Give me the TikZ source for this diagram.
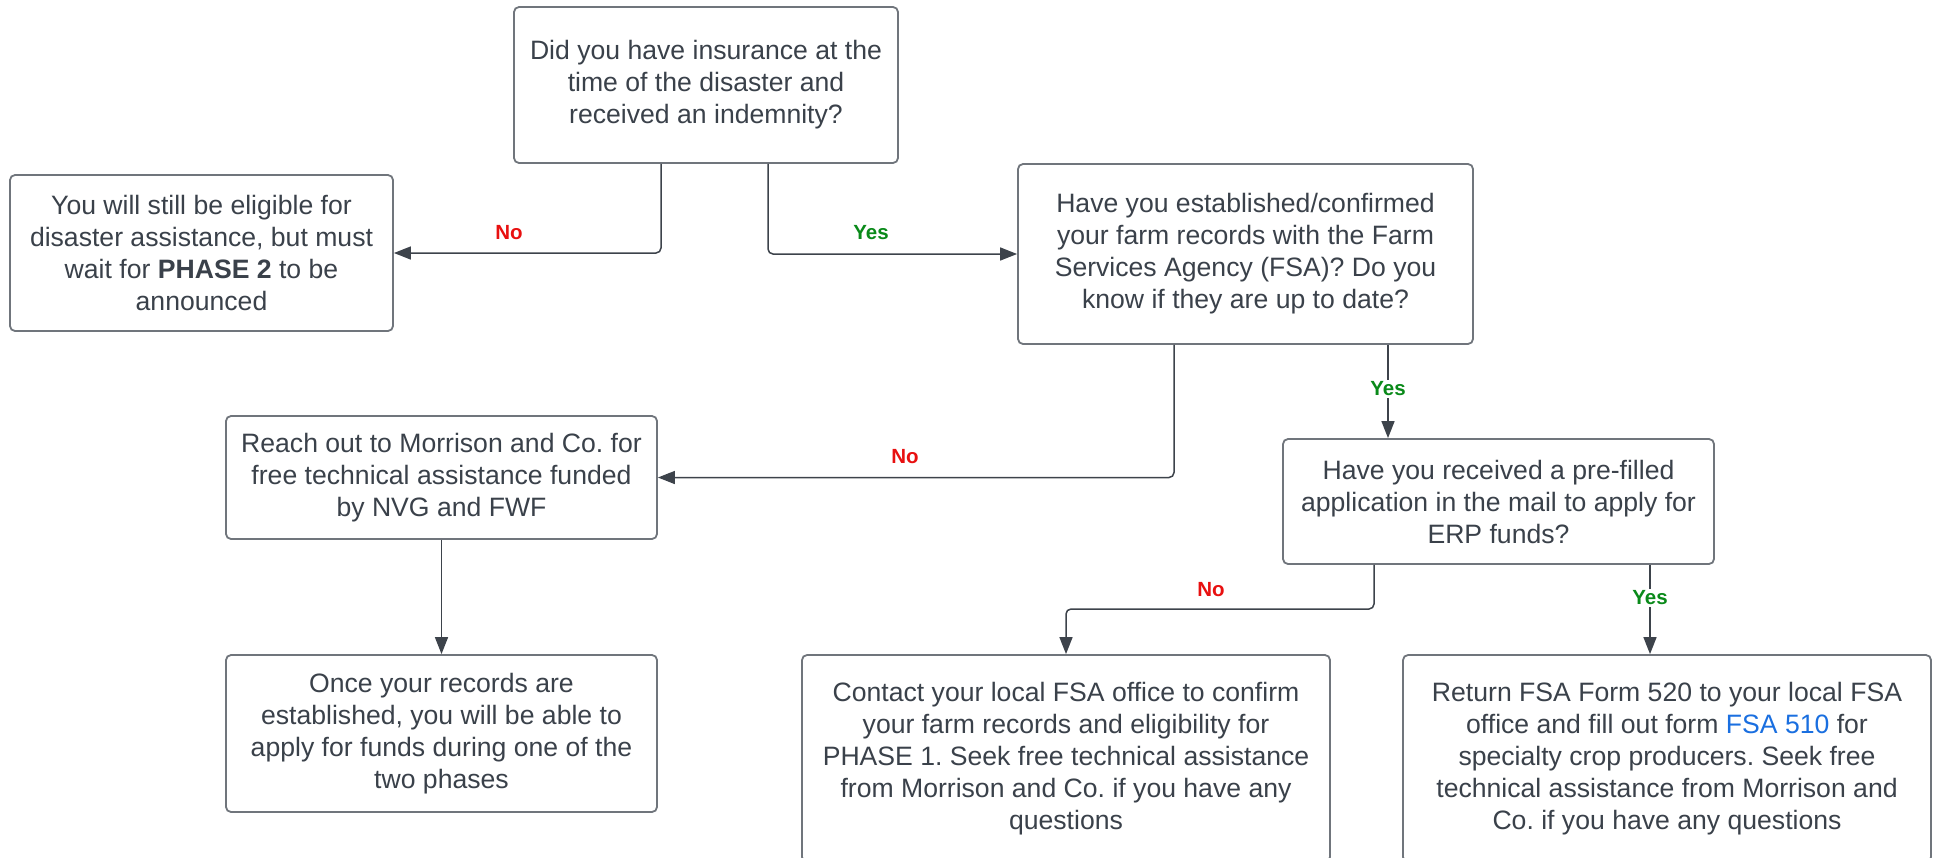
\documentclass[tikz,border=0pt]{standalone}
\usepackage{fontspec}
\setmainfont{Liberation Sans}
\usetikzlibrary{arrows.meta,calc}
\definecolor{txt}{HTML}{3A414A}
\definecolor{bord}{HTML}{70757C}
\definecolor{conncol}{HTML}{3D434B}
\definecolor{nored}{HTML}{E81010}
\definecolor{yesgreen}{HTML}{0A8A1A}
\definecolor{link}{HTML}{1A6FE0}
\tikzset{
  box/.style={draw=bord, line width=1.8pt, rounded corners=5pt, fill=white,
    inner sep=0pt, align=center, text=txt,
    font=\fontsize{26.6}{32}\selectfont\frenchspacing},
  conn/.style={draw=conncol, line width=1.5pt, rounded corners=5pt,
    -{Triangle[length=17pt,width=13pt]}},
  nolab/.style={text=nored, font=\fontsize{20.5}{24}\selectfont\bfseries, inner sep=2pt},
  yeslab/.style={text=yesgreen, font=\fontsize{20.5}{24}\selectfont\bfseries, inner sep=2pt},
}
\begin{document}
\begin{tikzpicture}[x=1pt,y=-1pt]
\useasboundingbox (0,0) rectangle (1934,857);
\node[box, minimum width=384pt, minimum height=156pt] (A) at (706,85)
  {Did you have insurance at the\\time of the disaster and\\received an indemnity?};
\node[box, minimum width=383pt, minimum height=156pt] (B) at (201.5,253)
  {You will still be eligible for\\disaster assistance, but must\\wait for \textbf{PHASE 2} to be\\announced};
\node[box, minimum width=455pt, minimum height=180pt] (C) at (1245.5,254)
  {Have you established/confirmed\\your farm records with the Farm\\Services Agency (FSA)? Do you\\know if they are up to date?};
\node[box, minimum width=431pt, minimum height=123pt] (D) at (441.5,477.5)
  {Reach out to Morrison and Co. for\\free technical assistance funded\\by NVG and FWF};
\node[box, minimum width=431pt, minimum height=125pt] (E) at (1498.5,501.5)
  {Have you received a pre-filled\\application in the mail to apply for\\ERP funds?};
\node[box, minimum width=431pt, minimum height=157pt] (F) at (441.5,733.5)
  {Once your records are\\established, you will be able to\\apply for funds during one of the\\two phases};
\node[box, minimum width=528pt, minimum height=207pt] (G) at (1066,758.5)
  {Contact your local FSA office to confirm\\your farm records and eligibility for\\PHASE 1. Seek free technical assistance\\from Morrison and Co. if you have any\\questions};
\node[box, minimum width=528pt, minimum height=207pt] (H) at (1667,758.5)
  {Return FSA Form 520 to your local FSA\\office and fill out form {\color{link}FSA 510} for\\specialty crop producers. Seek free\\technical assistance from Morrison and\\Co. if you have any questions};

\coordinate (xAno) at (661,0);
\coordinate (xAyes) at (768,0);
\coordinate (xCno) at (1174,0);
\coordinate (xCyes) at (1388,0);
\coordinate (xEno) at (1374,0);
\coordinate (xEyes) at (1650,0);
\coordinate (yEno) at (0,609);

\draw[conn] (A.south -| xAno) |- (B.east);
\draw[conn] (A.south -| xAyes) |- (C.west);
\draw[conn] (C.south -| xCno) |- (D.east);
\draw[conn] (C.south -| xCyes) -- (E.north -| xCyes);
\draw[conn] (D.south) -- (F.north);
\draw[conn] (E.south -| xEno) -- (xEno |- yEno) -| (G.north);
\draw[conn] (E.south -| xEyes) -- (H.north -| xEyes);

\node[nolab] (l1) at (509,233) {No};
\node[yeslab] (l2) at (871,233) {Yes};
\node[nolab] (l3) at (905,457) {No};
\node[yeslab, fill=white] (l4) at (1388,389) {Yes};
\node[nolab] (l5) at (1211,590) {No};
\node[yeslab, fill=white] (l6) at (1650,598) {Yes};
\end{tikzpicture}
\end{document}
